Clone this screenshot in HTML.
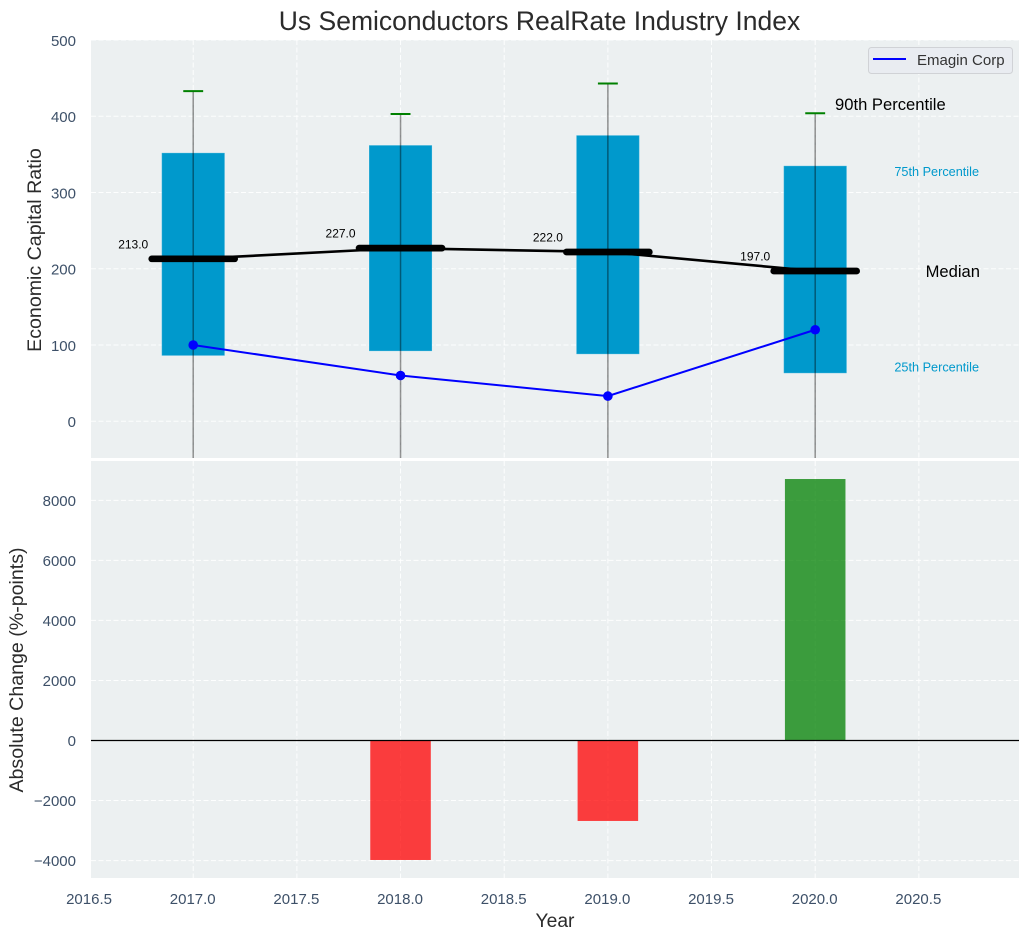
<!DOCTYPE html>
<html>
<head>
<meta charset="utf-8">
<title>Us Semiconductors RealRate Industry Index</title>
<style>
html,body{margin:0;padding:0;background:#fff;width:1029px;height:940px;overflow:hidden}
svg{display:block}
text{font-family:"Liberation Sans",Arial,sans-serif}
</style>
</head>
<body>
<svg id="chart" xmlns="http://www.w3.org/2000/svg" width="1029" height="940" viewBox="0 0 1029 940"></svg>
<script>
const years = [2017, 2018, 2019, 2020];
const p90 = [433, 403, 443, 404];
const p75 = [352, 362, 375, 335];
const medians = [213, 227, 222, 197];
const medianLabels = ["213.0", "227.0", "222.0", "197.0"];
const p25 = [86, 92, 88, 63];
const p10 = [-60, -60, -60, -60];
const emagin = [100, 60, 33, 120];
const absChange = [0, -3980, -2680, 8710];
const xTicks = [2016.5, 2017, 2017.5, 2018, 2018.5, 2019, 2019.5, 2020, 2020.5];
const xTickLabels = ["2016.5", "2017.0", "2017.5", "2018.0", "2018.5", "2019.0", "2019.5", "2020.0", "2020.5"];
const topTicks = [0, 100, 200, 300, 400, 500];
const topTickLabels = ["0", "100", "200", "300", "400", "500"];
const bottomTicks = [-4000, -2000, 0, 2000, 4000, 6000, 8000];
const bottomTickLabels = ["\u22124000", "\u22122000", "0", "2000", "4000", "6000", "8000"];

const svg = document.getElementById('chart');
const NS = 'http://www.w3.org/2000/svg';
const L = 91, R = 1019, T1 = 40, B1 = 458, T2 = 461, B2 = 878;
const xMin = 2016.507, xMax = 2020.983;
const top0 = -48.2, top1 = 500;
const bot0 = -4580, bot1 = 9310;
const x = v => L + (v - xMin) / (xMax - xMin) * (R - L);
const yTop = v => B1 - (v - top0) / (top1 - top0) * (B1 - T1);
const yBot = v => B2 - (v - bot0) / (bot1 - bot0) * (B2 - T2);

function mk(tag, attrs, parent, txt) {
  const e = document.createElementNS(NS, tag);
  for (const k in attrs) e.setAttribute(k, attrs[k]);
  if (txt !== undefined) e.textContent = txt;
  (parent || svg).appendChild(e);
  return e;
}

const defs = mk('defs', {});
const c1 = mk('clipPath', {id: 'clip-top'}, defs);
mk('rect', {x: L, y: T1, width: R - L, height: B1 - T1}, c1);
const c2 = mk('clipPath', {id: 'clip-bottom'}, defs);
mk('rect', {x: L, y: T2, width: R - L, height: B2 - T2}, c2);

const bgTop = mk('rect', {x: L, y: T1, width: R - L, height: B1 - T1, fill: '#ecf0f1'});


const bgBot = mk('rect', {x: L, y: T2, width: R - L, height: B2 - T2, fill: '#ecf0f1'});



const gTop = mk('g', {'clip-path': 'url(#clip-top)'});


const gBot = mk('g', {'clip-path': 'url(#clip-bottom)'});



const gridStyle = {stroke: '#ffffff', 'stroke-width': 1, 'stroke-dasharray': '5 2.5', fill: 'none', opacity: 0.9};
xTicks.forEach(t => {
  const a = mk('line', Object.assign({x1: x(t), x2: x(t), y1: T1, y2: B1}, gridStyle), gTop);
  
  
  const b = mk('line', Object.assign({x1: x(t), x2: x(t), y1: T2, y2: B2}, gridStyle), gBot);
  
  
});
topTicks.forEach(t => {
  const a = mk('line', Object.assign({x1: L, x2: R, y1: yTop(t), y2: yTop(t)}, gridStyle), gTop);
  
  
});
bottomTicks.forEach(t => {
  const a = mk('line', Object.assign({x1: L, x2: R, y1: yBot(t), y2: yBot(t)}, gridStyle), gBot);
  
  
});

const boxHalf = 0.152, barHalf = 0.146, capHalf = 0.048, medHalf = 0.2;

years.forEach((yr, i) => {
  const box = mk('rect', {
    x: x(yr - boxHalf), width: x(yr + boxHalf) - x(yr - boxHalf),
    y: yTop(p75[i]), height: yTop(p25[i]) - yTop(p75[i]),
    fill: '#0099cc', stroke: '#ffffff', 'stroke-opacity': 0.25, 'stroke-width': 1
  }, gTop);
  
  
});

const medianLine = mk('polyline', {
  points: years.map((yr, i) => x(yr) + ',' + yTop(medians[i])).join(' '),
  fill: 'none', stroke: '#000000', 'stroke-width': 2.6
}, gTop);



years.forEach((yr, i) => {
  const med = mk('line', {
    x1: x(yr - medHalf), x2: x(yr + medHalf), y1: yTop(medians[i]), y2: yTop(medians[i]),
    stroke: '#000000', 'stroke-width': 6.7, 'stroke-linecap': 'round'
  }, gTop);
  
  

  const wh = mk('line', {
    x1: x(yr), x2: x(yr), y1: yTop(p90[i]), y2: yTop(p10[i]),
    stroke: '#000000', 'stroke-opacity': 0.42, 'stroke-width': 1.5
  }, gTop);
  
  

  const cap = mk('line', {
    x1: x(yr - capHalf), x2: x(yr + capHalf), y1: yTop(p90[i]), y2: yTop(p90[i]),
    stroke: '#008000', 'stroke-width': 2
  }, gTop);
  
  

  const lab = mk('text', {
    x: x(yr) - 60, y: yTop(medians[i]) - 10.5, 'text-anchor': 'middle',
    'font-size': 12, fill: '#000000'
  }, gTop, medianLabels[i]);
  
  
});

const emLine = mk('polyline', {
  points: years.map((yr, i) => x(yr) + ',' + yTop(emagin[i])).join(' '),
  fill: 'none', stroke: '#0000ff', 'stroke-width': 2
}, gTop);


years.forEach((yr, i) => {
  const pt = mk('circle', {cx: x(yr), cy: yTop(emagin[i]), r: 4.8, fill: '#0000ff'}, gTop);
  
  
});

years.forEach((yr, i) => {
  if (absChange[i] === 0) return;
  const v = absChange[i];
  const bar = mk('rect', {
    x: x(yr - barHalf), width: x(yr + barHalf) - x(yr - barHalf),
    y: Math.min(yBot(0), yBot(v)), height: Math.abs(yBot(v) - yBot(0)),
    fill: v < 0 ? '#ff0000' : '#008000', 'fill-opacity': 0.75
  }, gBot);
  
  
});
const zero = mk('line', {x1: L, x2: R, y1: yBot(0), y2: yBot(0), stroke: '#000000', 'stroke-width': 1.2}, gBot);



const tickColor = '#3d5068';
xTicks.forEach((t, i) => {
  const e = mk('text', {x: x(t) - 0.5, y: 904, 'text-anchor': 'middle', 'font-size': 15, fill: tickColor}, svg, xTickLabels[i]);
  
  
});
topTicks.forEach((t, i) => {
  const e = mk('text', {x: 76, y: yTop(t) + 5.8, 'text-anchor': 'end', 'font-size': 15, fill: tickColor}, svg, topTickLabels[i]);
  
  
});
bottomTicks.forEach((t, i) => {
  const e = mk('text', {x: 76, y: yBot(t) + 5.5, 'text-anchor': 'end', 'font-size': 15, fill: tickColor}, svg, bottomTickLabels[i]);
  
  
});

const title = mk('text', {x: 539.5, y: 30, 'text-anchor': 'middle', 'font-size': 26.5, fill: '#2b2b2b'}, svg, 'Us Semiconductors RealRate Industry Index');



const xTitle = mk('text', {x: 555, y: 927, 'text-anchor': 'middle', 'font-size': 19.3, fill: '#2b2b2b'}, svg, 'Year');



const yTitle1 = mk('text', {'text-anchor': 'middle', 'font-size': 19.6, fill: '#2b2b2b', transform: 'translate(41,250) rotate(-90)'}, svg, 'Economic Capital Ratio');



const yTitle2 = mk('text', {'text-anchor': 'middle', 'font-size': 19.6, fill: '#2b2b2b', transform: 'translate(23,670) rotate(-90)'}, svg, 'Absolute Change (%-points)');



const last = years.length - 1;
const a90 = mk('text', {x: 835, y: yTop(p90[last]) - 3, 'font-size': 16.6, fill: '#000000'}, svg, '90th Percentile');


const a75 = mk('text', {x: 979, y: yTop(p75[last]) + 10, 'text-anchor': 'end', 'font-size': 12.7, fill: '#0099cc'}, svg, '75th Percentile');


const aMed = mk('text', {x: 980, y: yTop(medians[last]) + 5.8, 'text-anchor': 'end', 'font-size': 16.6, fill: '#000000'}, svg, 'Median');


const a25 = mk('text', {x: 979, y: yTop(p25[last]) - 1.5, 'text-anchor': 'end', 'font-size': 12.7, fill: '#0099cc'}, svg, '25th Percentile');



const legend = mk('g', {});


const legBox = mk('rect', {x: 868.5, y: 47.5, width: 144, height: 26, rx: 3, fill: '#e9ecf1', stroke: '#d0d2d6', 'stroke-width': 1}, legend);


const legLine = mk('line', {x1: 873, x2: 906, y1: 59, y2: 59, stroke: '#0000ff', 'stroke-width': 2}, legend);


const legText = mk('text', {x: 917, y: 65, 'font-size': 15, fill: '#333333'}, legend, 'Emagin Corp');


</script>
</body>
</html>
